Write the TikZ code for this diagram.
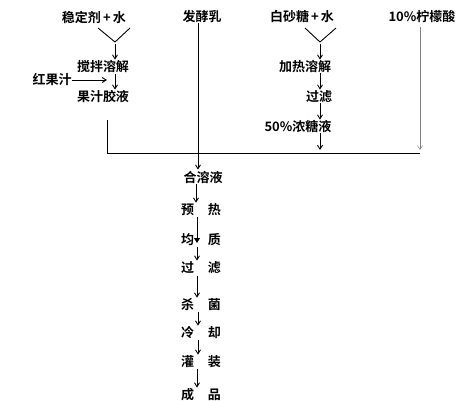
\documentclass[tikz,border=0pt]{standalone}
\usepackage{fontspec}
\setmainfont{Noto Sans CJK SC}[BoldFont={* Bold}]
\usetikzlibrary{arrows.meta}
\begin{document}
\begin{tikzpicture}[x=1pt,y=-1pt,
  lbl/.style={inner sep=0pt,font=\fontsize{13}{13}\selectfont\bfseries},
  ln/.style={line width=0.9pt},
  arr/.style={line width=0.9pt,shorten >=1pt,-{Straight Barb[length=4pt,width=5pt]}},
  faint/.style={line width=0.5pt,gray,-{Straight Barb[length=4pt,width=5pt]}}]
\useasboundingbox (0,0) rectangle (461,400);
% left branch
\node[lbl] (a1) at (94,17) {稳定剂\,+\,水};
\coordinate (v1) at (115,42);
\coordinate (v1l) at (98,28);
\coordinate (v1r) at (130,28);
\draw[ln] (v1l) -- (v1) -- (v1r);
\node[lbl] (b1) at (103,67) {搅拌溶解};
\draw[arr] (v1) ++(0,2) coordinate (v1d) -- (v1d |- b1.north);
\node[lbl] (r) at (52,80) {红果汁};
\coordinate (rr) at (108,80);
\draw[arr] (r.east) -- (rr);
\node[lbl] (c1) at (103,97) {果汁胶液};
\draw[arr] (115,74) coordinate (b1d) -- (b1d |- c1.north);
\coordinate (p1) at (107,120);
\coordinate (h1) at (107,153);
\draw[ln] (p1) -- (h1);
% middle
\node[lbl] (f) at (202,17) {发酵乳};
\coordinate (fb) at (198,153);
\draw[ln] (f.south -| fb) -- (fb);
\coordinate (h2) at (420,153);
\draw[line width=0.6pt] (h1) -- (h2);
% right branch
\node[lbl] (s1) at (302,17) {白砂糖\,+\,水};
\coordinate (v2) at (320,42);
\coordinate (v2l) at (305,28);
\coordinate (v2r) at (336,28);
\draw[ln] (v2l) -- (v2) -- (v2r);
\node[lbl] (s2) at (305,67) {加热溶解};
\draw[arr] (v2) ++(0,2) coordinate (v2d) -- (v2d |- s2.north);
\node[lbl] (s3) at (319,97) {过滤};
\draw[arr] (s2.south -| v2) -- (s3.north -| v2);
\node[lbl] (s4) at (298,127) {50\%浓糖液};
\draw[arr] (s3.south -| v2) -- (s4.north -| v2);
\coordinate (s4d) at (320,151);
\draw[arr] (s4.south -| v2) -- (s4d);
\node[lbl] (k) at (422,17) {10\%柠檬酸};
\coordinate (kd) at (420,150);
\draw[faint] (k.south -| kd) ++(0,4) -- (kd);
% main column
\coordinate (m0) at (198,153);
\node[lbl] (m1) at (203,177) {合溶液};
\draw[arr] (m0) -- (m0 |- m1.north);
\node[lbl] (m2) at (201,210) {预\hspace{14pt}热};
\draw[arr] (196,184) coordinate (m1d) -- (m1d |- m2.north);
\node[lbl] (m3) at (201,240) {均\hspace{14pt}质};
\coordinate (m2d) at (197,217);
\draw[line width=0.9pt,-{Triangle[length=5pt,width=6pt]}] (m2d) -- (197,243);
\node[lbl] (m4) at (201,268) {过\hspace{14pt}滤};
\draw[arr] (197,247) coordinate (m3d) -- (m3d |- m4.north);
\node[lbl] (m5) at (201,305) {杀\hspace{14pt}菌};
\draw[arr] (197,276) coordinate (m4d) -- (m4d |- m5.north);
\node[lbl] (m6) at (201,333) {冷\hspace{14pt}却};
\draw[arr] (198,312) coordinate (m5d) -- (m5d |- m6.north);
\node[lbl] (m7) at (201,362) {灌\hspace{14pt}装};
\draw[arr] (198,340) coordinate (m6d) -- (m6d |- m7.north);
\node[lbl] (m8) at (201,395) {成\hspace{14pt}品};
\draw[arr] (197,369) coordinate (m7d) -- (m7d |- m8.north);
\end{tikzpicture}
\end{document}
